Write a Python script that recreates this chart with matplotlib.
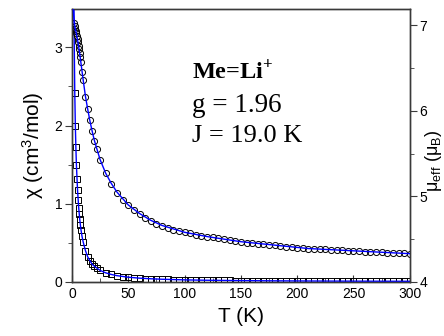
import matplotlib
matplotlib.use("Agg")
import matplotlib.pyplot as plt

plt.rcParams['font.family'] = ['Liberation Sans', 'DejaVu Sans']
plt.rcParams['mathtext.fontset'] = 'custom'
plt.rcParams['mathtext.rm'] = 'Liberation Sans'
plt.rcParams['mathtext.it'] = 'Liberation Sans:italic'
plt.rcParams['mathtext.bf'] = 'Liberation Serif:bold'

# measured data (T in K)
T_mu = [2, 2.5, 3, 3.5, 4, 4.5, 5, 5.5, 6, 6.5, 7, 7.5, 8, 9, 10, 12, 14, 16, 18, 20,
        22, 25, 30, 35, 40, 45, 50, 55, 60, 65, 70, 75, 80, 85, 90, 95, 100, 105,
        110, 115, 120, 125, 130, 135, 140, 145, 150, 155, 160, 165, 170, 175, 180,
        185, 190, 195, 200, 205, 210, 215, 220, 225, 230, 235, 240, 245, 250, 255,
        260, 265, 270, 275, 280, 285, 290, 295, 300]
mu_eff = [7.03, 6.99, 6.96, 6.93, 6.91, 6.88, 6.84, 6.80, 6.76, 6.72, 6.68, 6.63, 6.57,
          6.46, 6.36, 6.16, 6.02, 5.89, 5.76, 5.65, 5.55, 5.43, 5.27, 5.15, 5.04, 4.96,
          4.90, 4.84, 4.79, 4.75, 4.71, 4.68, 4.65, 4.63, 4.61, 4.59, 4.58, 4.57, 4.55,
          4.54, 4.53, 4.52, 4.51, 4.50, 4.49, 4.48, 4.47, 4.46, 4.45, 4.44, 4.44, 4.43,
          4.43, 4.42, 4.41, 4.41, 4.40, 4.40, 4.39, 4.39, 4.38, 4.38, 4.37, 4.37, 4.37,
          4.36, 4.36, 4.36, 4.35, 4.35, 4.35, 4.35, 4.34, 4.34, 4.34, 4.34, 4.33]

T_chi = T_mu[1:]
chi = [2.42, 2.00, 1.72, 1.49, 1.31, 1.17, 1.05, 0.95, 0.87, 0.80, 0.73, 0.67, 0.59,
       0.51, 0.40, 0.32, 0.27, 0.23, 0.20, 0.175, 0.147, 0.116, 0.095, 0.079, 0.068,
       0.060, 0.053, 0.048, 0.043, 0.040, 0.036, 0.034, 0.031, 0.029, 0.028, 0.026,
       0.0249, 0.0235, 0.0224, 0.0213, 0.0204, 0.0196, 0.0187, 0.0180, 0.0173, 0.0167,
       0.0160, 0.0155, 0.0149, 0.0145, 0.0140, 0.0136, 0.0132, 0.0128, 0.0125, 0.0121,
       0.0118, 0.0115, 0.0112, 0.0109, 0.0106, 0.0104, 0.0102, 0.0099, 0.0097, 0.0095,
       0.0093, 0.0091, 0.0089, 0.0088, 0.0086, 0.0084, 0.0083, 0.0081, 0.0080, 0.0078]

# fit curves
T_fit = [1.0, 1.5, 2, 2.5, 3, 3.5, 4, 5, 6, 7, 8, 9, 10, 12, 14, 16, 18, 20, 25, 30,
         35, 40, 50, 60, 70, 80, 100, 120, 150, 180, 210, 240, 270, 300]
mu_fit = [7.25, 7.12, 7.06, 7.00, 6.96, 6.93, 6.90, 6.83, 6.75, 6.66, 6.56, 6.46, 6.36,
          6.17, 6.02, 5.88, 5.76, 5.65, 5.43, 5.27, 5.15, 5.05, 4.90, 4.80, 4.72, 4.66,
          4.58, 4.53, 4.47, 4.43, 4.39, 4.37, 4.35, 4.33]
chi_fit = [6.6, 4.22, 3.12, 2.45, 2.02, 1.72, 1.49, 1.17, 0.95, 0.79, 0.67, 0.58, 0.51,
           0.40, 0.32, 0.27, 0.225, 0.20, 0.147, 0.116, 0.095, 0.080, 0.060, 0.048,
           0.040, 0.034, 0.026, 0.021, 0.0166, 0.0136, 0.0115, 0.0099, 0.0088, 0.0078]

spine_col = '#3a3a3a'

fig = plt.figure(figsize=(4.44, 3.36), dpi=100)
ax = fig.add_axes([0.162, 0.161, 0.761, 0.812])
ax2 = ax.twinx()

ax.plot(T_chi, chi, 's', ms=4.2, mfc='none', mec='black', mew=0.7, zorder=2)
ax.plot(T_fit, chi_fit, '-', color='#0000ff', lw=1.0, zorder=3)
ax2.plot(T_mu, mu_eff, 'o', ms=4.4, mfc='none', mec='black', mew=0.7, zorder=2)
ax2.plot(T_fit, mu_fit, '-', color='#0000ff', lw=1.0, zorder=3)

ax.set_xlim(0, 300)
ax.set_ylim(0, 3.49)
ax2.set_ylim(4, 7.19)

ax.set_xticks([0, 50, 100, 150, 200, 250, 300])
ax.set_xticks([25, 75, 125, 175, 225, 275], minor=True)
ax.set_yticks([0, 1, 2, 3])
ax.set_yticks([0.5, 1.5, 2.5], minor=True)
ax2.set_yticks([4, 5, 6, 7])
ax2.set_yticks([4.5, 5.5, 6.5], minor=True)

for a in (ax, ax2):
    for s in a.spines.values():
        s.set_color(spine_col)
        s.set_linewidth(1.0)

ax.tick_params(axis='x', which='both', direction='in', top=False, colors=spine_col,
               labelcolor='black', labelsize=10, pad=4)
ax.tick_params(axis='x', which='major', length=5)
ax.tick_params(axis='x', which='minor', length=3)
ax.tick_params(axis='y', which='both', direction='out', colors=spine_col,
               labelcolor='black', labelsize=10, pad=2)
ax.tick_params(axis='y', which='major', length=5)
ax.tick_params(axis='y', which='minor', length=3)
ax2.tick_params(axis='y', which='both', direction='out', colors=spine_col,
                labelcolor='black', labelsize=10, pad=2)
ax2.tick_params(axis='y', which='major', length=5)
ax2.tick_params(axis='y', which='minor', length=3)

ax.set_xlabel('T (K)', fontsize=15, labelpad=4)
ax.set_ylabel('χ (cm$^3$/mol)', fontsize=15, labelpad=6)
ax2.set_ylabel('μ$_{\\rm eff}$ (μ$_{\\rm B}$)', fontsize=13, rotation=90)
ax2.yaxis.set_label_coords(1.038, 0.443)

ax.text(107, 2.6, 'Me=Li$^{\\mathbf{+}}$', family='Liberation Serif', fontweight='bold',
        fontsize=17.5, va='baseline')
ax.text(107, 2.17, 'g = 1.96', family='Liberation Serif', fontsize=19.5, va='baseline')
ax.text(107, 1.79, 'J = 19.0 K', family='Liberation Serif', fontsize=19, va='baseline')

fig.savefig('out.png', dpi=100)
